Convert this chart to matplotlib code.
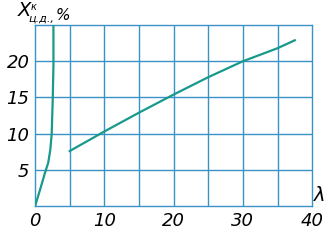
import matplotlib
matplotlib.use('Agg')
import matplotlib.pyplot as plt

# curve near the y axis
left_x = [0.0, 0.7, 1.4, 1.9, 2.2, 2.4, 2.55, 2.65, 2.65]
left_y = [0.0, 2.2, 4.5, 6.0, 7.8, 10.0, 14.8, 19.4, 25.0]

# main curve against lambda
lam = [5.0, 10.0, 15.0, 20.0, 25.0, 30.0, 35.0, 37.5]
xcd = [7.6, 10.3, 12.9, 15.4, 17.8, 20.0, 21.8, 22.9]

xticks = [0, 10, 20, 30, 40]
yticks = [5, 10, 15, 20]

grid_c = '#3a93c6'
line_c = '#17998b'
fnt = dict(family='DejaVu Sans', style='italic')

fig = plt.figure(figsize=(3.31, 2.41), dpi=100)
ax = fig.add_axes([0.106, 0.145, 0.837, 0.751])
ax.set_xlim(0, 40)
ax.set_ylim(0, 25)

for gx in range(5, 40, 5):
    ax.axvline(gx, color=grid_c, lw=1.0, zorder=1)
for gy in range(5, 25, 5):
    ax.axhline(gy, color=grid_c, lw=1.0, zorder=1)

ax.plot(left_x, left_y, color=line_c, lw=1.6, zorder=3)
ax.plot(lam, xcd, color=line_c, lw=1.6, zorder=3)

for s in ax.spines.values():
    s.set_color(grid_c)
    s.set_linewidth(1.0)

ax.set_xticks(xticks)
ax.set_yticks(yticks)
ax.tick_params(length=0, pad=4)
for lab in ax.get_xticklabels() + ax.get_yticklabels():
    lab.set_fontfamily(fnt['family'])
    lab.set_fontstyle('italic')
    lab.set_fontsize(13)

# axis label  X^к_ц.д., %
fig.text(0.055, 0.935, 'X', fontsize=14, ha='left', va='baseline', **fnt)
fig.text(0.093, 0.96, 'к', fontsize=7, ha='left', va='baseline', **fnt)
fig.text(0.087, 0.912, 'ц.д.,', fontsize=8, ha='left', va='baseline', **fnt)
fig.text(0.168, 0.915, '%', fontsize=11, ha='left', va='baseline', **fnt)
fig.text(0.948, 0.15, 'λ', fontsize=14, ha='left', va='bottom', **fnt)

fig.savefig('out.png', dpi=100)
